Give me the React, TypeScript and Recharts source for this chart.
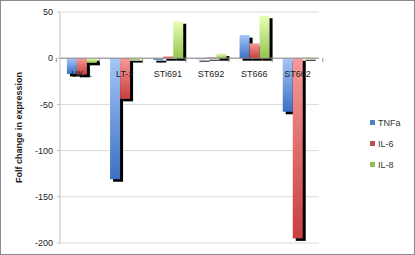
import React from 'react';
import { BarChart, Bar, XAxis, YAxis, CartesianGrid, ReferenceLine, Legend } from 'recharts';

const categories = ['UK-1', 'LT-2', 'STi691', 'ST692', 'ST666', 'ST662'];
const tnfa = [-17, -131, -2, -1, 25, -58];
const il6 = [-18, -44, 2, 1, 16, -195];
const il8 = [-5, -2, 40, 5, 46, 1];
const yTicks = [50, 0, -50, -100, -150, -200];
const seriesNames = ['TNFa', 'IL-6', 'IL-8'];

const data = categories.map((c, i) => ({ name: c, TNFa: tnfa[i], 'IL-6': il6[i], 'IL-8': il8[i] }));

const W = 415;
const H = 255;
const X_AXIS_H = 2;
const M = { top: 12, right: 51, bottom: 10, left: 10 };
const Y_AXIS_W = 50;
const Y_MIN = -200;
const Y_MAX = 50;
const PLOT_TOP = M.top;
const PLOT_H = H - M.top - M.bottom - X_AXIS_H;
const PLOT_LEFT = M.left + Y_AXIS_W;
const PLOT_W = W - PLOT_LEFT - M.right;
const ZERO_Y = PLOT_TOP + (PLOT_H * (Y_MAX - 0)) / (Y_MAX - Y_MIN);
const BAND = PLOT_W / categories.length;

const FONT = 'Liberation Sans, Arial, sans-serif';

const colors = {
  TNFa: { light: '#a4c6f7', dark: '#3c70c4', swatch: '#4f81bd' },
  'IL-6': { light: '#f79a9a', dark: '#c93e3e', swatch: '#c0504d' },
  'IL-8': { light: '#e8ffb6', dark: '#94c44e', swatch: '#9bbb59' },
};

const gradId = (n: string) => 'g_' + n.replace(/[^a-zA-Z0-9]/g, '');

const ShadowBar = (props: any) => {
  const { x, y, width, height, fill } = props;
  if (x == null || y == null) return null;
  const top = Math.min(y, y + height);
  const h = Math.max(Math.abs(height), 0.8);
  return (
    <g>
      <rect x={x + 3} y={top + 2.5} width={width} height={h} fill="#000" />
      <rect x={x} y={top} width={width} height={h} fill={fill} />
    </g>
  );
};

const CatTick = (props: any) => {
  const { x, payload, index } = props;
  const left = x - BAND / 2;
  return (
    <g>
      <line x1={left} y1={ZERO_Y} x2={left} y2={ZERO_Y + 4} stroke="#8c8c8c" />
      {index === categories.length - 1 && (
        <line x1={left + BAND} y1={ZERO_Y} x2={left + BAND} y2={ZERO_Y + 4} stroke="#8c8c8c" />
      )}
      <text x={x} y={ZERO_Y + 19} textAnchor="middle" fontSize={9} fontFamily={FONT} fill="#222">
        {payload.value}
      </text>
    </g>
  );
};

const LegendContent = () => (
  <div style={{ fontFamily: FONT, fontSize: 9, color: '#333' }}>
    {seriesNames.map((n) => (
      <div key={n} style={{ display: 'flex', alignItems: 'center', height: 21 }}>
        <span
          style={{
            display: 'inline-block',
            width: 5,
            height: 5,
            background: (colors as any)[n].swatch,
            marginRight: 3,
          }}
        />
        <span>{n}</span>
      </div>
    ))}
  </div>
);

const YLabel = () => {
  const cx = 19;
  const cy = PLOT_TOP + PLOT_H / 2;
  return (
    <text
      x={cx}
      y={cy}
      transform={`rotate(-90 ${cx} ${cy})`}
      textAnchor="middle"
      dominantBaseline="central"
      fontSize={9}
      fontWeight="bold"
      fontFamily={FONT}
      fill="#222"
    >
      Folf change in expression
    </text>
  );
};

export default function App() {
  return (
    <div
      style={{
        position: 'absolute',
        left: 0,
        top: 0,
        width: W,
        height: H,
        boxSizing: 'border-box',
        border: '1px solid #8c8c8c',
        background: '#fff',
      }}
    >
      <div style={{ position: 'absolute', left: -1, top: -1 }}>
        <BarChart width={W} height={H} data={data} margin={M} barCategoryGap="16%" barGap={0}>
          <defs>
            {seriesNames.map((n) => (
              <linearGradient key={n} id={gradId(n)} x1="0" y1="0" x2="0" y2="1">
                <stop offset="0%" stopColor={(colors as any)[n].light} />
                <stop offset="100%" stopColor={(colors as any)[n].dark} />
              </linearGradient>
            ))}
          </defs>
          <CartesianGrid vertical={false} stroke="#d9d9d9" />
          <YAxis
            domain={[Y_MIN, Y_MAX]}
            ticks={yTicks}
            width={Y_AXIS_W}
            axisLine={{ stroke: '#bfbfbf' }}
            tickLine={{ stroke: '#bfbfbf' }}
            tickSize={3}
            tickMargin={4}
            tick={{ fontSize: 9, fontFamily: FONT, fill: '#222' }}
            label={<YLabel />}
          />
          <ReferenceLine y={0} stroke="#8c8c8c" />
          {seriesNames.map((n) => (
            <Bar
              key={n}
              dataKey={n}
              fill={`url(#${gradId(n)})`}
              shape={<ShadowBar />}
              isAnimationActive={false}
            />
          ))}
          <XAxis
            dataKey="name"
            axisLine={false}
            tickLine={false}
            tick={<CatTick />}
            height={X_AXIS_H}
            interval={0}
          />
          <Legend
            layout="vertical"
            align="right"
            verticalAlign="top"
            content={<LegendContent />}
            wrapperStyle={{ left: 370, top: 112, width: 45 }}
          />
        </BarChart>
      </div>
    </div>
  );
}
